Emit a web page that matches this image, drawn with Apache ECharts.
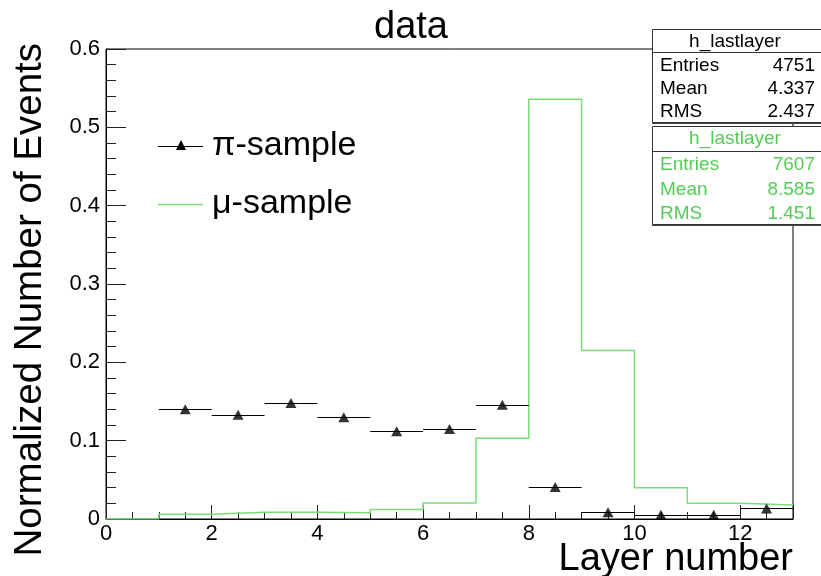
<!DOCTYPE html>
<html>
<head>
<meta charset="utf-8">
<script src="https://cdn.jsdelivr.net/npm/echarts@6/dist/echarts.min.js"></script>
<style>
  html, body { margin: 0; padding: 0; background: #fff; }
  #main { width: 821px; height: 576px; }
</style>
</head>
<body>
<div id="main"></div>
<script>
// bin edges of the layer histogram (0..13)
var binEdges = [0, 1, 2, 3, 4, 5, 6, 7, 8, 9, 10, 11, 12, 13];
// pi-sample, bins 1-2 .. 12-13
var piBins = [1, 2, 3, 4, 5, 6, 7, 8, 9, 10, 11, 12];
var piValues = [0.140, 0.133, 0.148, 0.130, 0.112, 0.115, 0.146, 0.041, 0.0085, 0.0055, 0.0055, 0.0135];
// mu-sample, bins 0-1 .. 12-13
var muValues = [0, 0.006, 0.0085, 0.0085, 0.008, 0.012, 0.0205, 0.103, 0.536, 0.215, 0.040, 0.020, 0.018];
var yTicks = [0, 0.1, 0.2, 0.3, 0.4, 0.5, 0.6];

var piStats = ['4751', '4.337', '2.437'];
var muStats = ['7607', '8.585', '1.451'];

var FONT = '"Liberation Sans", Arial, Helvetica, sans-serif';
var GREEN_LINE = '#77dd77';
var GREEN_TEXT = '#55cc55';

// step line data: one point per left edge, plus the closing right edge
var muStep = [];
for (var i = 0; i < muValues.length; i++) {
  muStep.push([binEdges[i], muValues[i]]);
}
muStep.push([binEdges[binEdges.length - 1], muValues[muValues.length - 1]]);

var piErr = piBins.map(function (b, i) { return [b, b + 1, piValues[i]]; });
var piPts = piBins.map(function (b, i) { return [b + 0.5, piValues[i]]; });

function statsBox(top, h, sep, rowsY, title, vals, color) {
  var rows = ['Entries', 'Mean', 'RMS'];
  var els = [
    { type: 'rect', shape: { x: 652.5, y: top + 0.5, width: 180, height: h },
      style: { fill: '#fff', stroke: '#333', lineWidth: 1 }, z: 100 },
    { type: 'line', shape: { x1: 652, y1: top + h + 1.5, x2: 821, y2: top + h + 1.5 },
      style: { stroke: '#444', lineWidth: 1 }, z: 100 },
    { type: 'line', shape: { x1: 652, y1: sep + 0.5, x2: 821, y2: sep + 0.5 },
      style: { stroke: '#333', lineWidth: 1 }, z: 101 },
    { type: 'text', x: 735, y: top + 13, z: 101,
      style: { text: title, font: '19px ' + FONT, fill: color, align: 'center', verticalAlign: 'middle' } }
  ];
  for (var r = 0; r < 3; r++) {
    els.push({ type: 'text', x: 660, y: rowsY[r], z: 101,
      style: { text: rows[r], font: '19px ' + FONT, fill: color, align: 'left', verticalAlign: 'middle' } });
    els.push({ type: 'text', x: 815, y: rowsY[r], z: 101,
      style: { text: vals[r], font: '19px ' + FONT, fill: color, align: 'right', verticalAlign: 'middle' } });
  }
  return els;
}

var chart = echarts.init(document.getElementById('main'));

var graphics = [
  { type: 'text', x: 411, y: 28,
    style: { text: 'data', font: '38px ' + FONT, fill: '#000', align: 'center', verticalAlign: 'middle' } },
  { type: 'text', x: 793, y: 560,
    style: { text: 'Layer number', font: '38px ' + FONT, fill: '#000', align: 'right', verticalAlign: 'middle' } },
  { type: 'text', x: 30, y: 43, rotation: Math.PI / 2,
    style: { text: 'Normalized Number of Events', font: '38.5px ' + FONT, fill: '#000', align: 'right', verticalAlign: 'middle' } },
  // legend
  { type: 'line', shape: { x1: 158, y1: 146.5, x2: 203, y2: 146.5 }, style: { stroke: '#000', lineWidth: 1 } },
  { type: 'polygon', shape: { points: [[181, 140], [176, 150], [186, 150]] }, style: { fill: '#000' } },
  { type: 'text', x: 212, y: 146,
    style: { text: 'π-sample', font: '34px ' + FONT, fill: '#000', align: 'left', verticalAlign: 'middle' } },
  { type: 'line', shape: { x1: 158, y1: 204.5, x2: 203, y2: 204.5 }, style: { stroke: GREEN_LINE, lineWidth: 1.5 } },
  { type: 'text', x: 212, y: 204,
    style: { text: 'μ-sample', font: '34px ' + FONT, fill: '#000', align: 'left', verticalAlign: 'middle' } }
].concat(statsBox(29, 93, 52, [66, 89, 112], 'h_lastlayer', piStats, '#000'))
 .concat(statsBox(126, 98, 151, [165, 190, 214], 'h_lastlayer', muStats, GREEN_TEXT));

chart.setOption({
  animation: false,
  backgroundColor: '#fff',
  grid: {
    left: 106, right: 28, top: 49, bottom: 57,
    show: true, borderColor: '#000', borderWidth: 1, backgroundColor: 'transparent'
  },
  xAxis: {
    type: 'value', min: 0, max: 13, interval: 2,
    axisLine: { lineStyle: { color: '#000', width: 1 } },
    axisTick: { inside: true, length: 14, lineStyle: { color: '#222' } },
    minorTick: { show: true, splitNumber: 4, length: 7, lineStyle: { color: '#222' } },
    splitLine: { show: false },
    axisLabel: { margin: 4, fontSize: 22, fontFamily: FONT, color: '#000',
      showMaxLabel: false, formatter: function (v) { return String(v); } }
  },
  yAxis: {
    type: 'value', min: yTicks[0], max: yTicks[yTicks.length - 1], interval: 0.1,
    axisLine: { show: true, lineStyle: { color: '#000', width: 1 } },
    axisTick: { show: true, inside: true, length: 20, lineStyle: { color: '#222' } },
    minorTick: { show: true, splitNumber: 5, length: 10, lineStyle: { color: '#222' } },
    splitLine: { show: false },
    axisLabel: { margin: 6, fontSize: 22, fontFamily: FONT, color: '#000',
      formatter: function (v) { return v === 0 ? '0' : v.toFixed(1); } }
  },
  series: [
    {
      name: 'μ-sample', type: 'line', step: 'end', data: muStep,
      showSymbol: false, lineStyle: { color: GREEN_LINE, width: 1.5 }, z: 3
    },
    {
      name: 'π-sample err', type: 'custom', data: piErr,
      encode: { x: [0, 1], y: 2 }, z: 4,
      renderItem: function (params, api) {
        var a = api.coord([api.value(0), api.value(2)]);
        var b = api.coord([api.value(1), api.value(2)]);
        return { type: 'line', shape: { x1: a[0], y1: Math.round(a[1]) + 0.5, x2: b[0], y2: Math.round(b[1]) + 0.5 },
          style: { stroke: '#000', lineWidth: 1 } };
      }
    },
    {
      name: 'π-sample', type: 'scatter', data: piPts, symbol: 'triangle',
      symbolSize: [11, 10], itemStyle: { color: '#000' }, z: 5
    }
  ],
  graphic: graphics
});
</script>
</body>
</html>
